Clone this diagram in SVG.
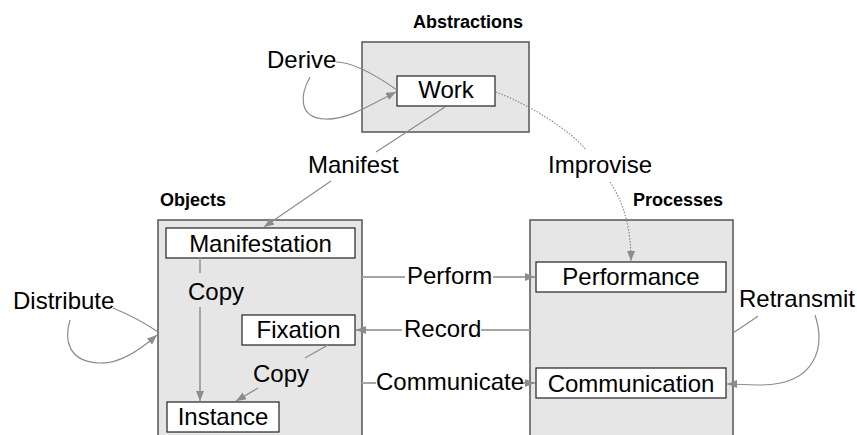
<svg xmlns="http://www.w3.org/2000/svg" width="857" height="435" viewBox="0 0 857 435">
<defs>
<marker id="ah" markerUnits="userSpaceOnUse" markerWidth="11" markerHeight="9" refX="10" refY="4" orient="auto" viewBox="0 0 11 9">
<path d="M0,0 L10,4 L0,8 z" fill="#8c8c8c"/>
</marker>
</defs>
<style>
.grp{fill:#e6e6e6;stroke:#555;stroke-width:1.5}
.node{fill:#fff;stroke:#222;stroke-width:1.2}
.t{font-family:"Liberation Sans",Arial,sans-serif;font-size:24px;fill:#000}
.c{text-anchor:middle}
.h{font-family:"Liberation Sans",Arial,sans-serif;font-size:18px;font-weight:bold;fill:#000}
.ln{fill:none;stroke:#a6a6a6;stroke-width:2}
.th{fill:none;stroke:#8c8c8c;stroke-width:1.2}
.dot{fill:none;stroke:#8c8c8c;stroke-width:1.2;stroke-dasharray:1.5 1.5}
</style>
<rect width="857" height="435" fill="#fff"/>
<g id="abstractions">
<rect class="grp" x="362" y="42" width="167" height="90"/>
<text class="h" x="413" y="28">Abstractions</text>
</g>
<g id="objects">
<rect class="grp" x="158" y="220" width="204" height="230"/>
<text class="h" x="160" y="206">Objects</text>
</g>
<g id="processes">
<rect class="grp" x="530" y="220" width="203" height="230"/>
<text class="h" x="633" y="206">Processes</text>
</g>
<g id="work">
<rect class="node" x="397" y="76" width="98" height="30"/>
<text class="t c" x="446" y="98">Work</text>
</g>
<g id="manifestation">
<rect class="node" x="166" y="228" width="189" height="30"/>
<text class="t c" x="260.5" y="252">Manifestation</text>
</g>
<g id="fixation">
<rect class="node" x="242" y="315" width="113" height="30"/>
<text class="t c" x="298.5" y="338">Fixation</text>
</g>
<g id="instance">
<rect class="node" x="167" y="402" width="112" height="30"/>
<text class="t c" x="223" y="425">Instance</text>
</g>
<g id="performance">
<rect class="node" x="536" y="262" width="190" height="30"/>
<text class="t c" x="631" y="285">Performance</text>
</g>
<g id="communication">
<rect class="node" x="536" y="368" width="190" height="30"/>
<text class="t c" x="631" y="392">Communication</text>
</g>
<g id="connectors">
<path class="th" d="M397,90 C380,78 355,62 336,62"/>
<path class="th" d="M310,77 C300,95 298,118 325,119 C348,120 372,104 396,92" marker-end="url(#ah)"/>
<text class="t" x="267" y="68">Derive</text>
<path class="th" d="M445,107 L376,152"/>
<path class="th" d="M331,181 L264,227" marker-end="url(#ah)"/>
<text class="t" x="308" y="173">Manifest</text>
<path class="dot" d="M496,92 C530,105 570,130 586,150"/>
<path class="dot" d="M610,182 C625,205 631,230 631,261" marker-end="url(#ah)"/>
<text class="t" x="548" y="173">Improvise</text>
<path class="th" d="M113,308 C130,315 145,323 158,332"/>
<path class="th" d="M70,320 C64,340 68,362 100,363 C120,364 140,350 157,335" marker-end="url(#ah)"/>
<text class="t" x="13" y="309">Distribute</text>
<path class="th" d="M758,316 C750,322 740,328 733,333"/>
<path class="th" d="M815,315 C825,345 818,385 760,385 C750,385 738,384 727,384" marker-end="url(#ah)"/>
<text class="t" x="739" y="307">Retransmit</text>
<path class="ln" d="M362,277 L405,277"/>
<path class="ln" d="M493,277 L535,277" marker-end="url(#ah)"/>
<text class="t" x="407" y="284">Perform</text>
<path class="ln" d="M530,330 L481,330"/>
<path class="ln" d="M402,330 L356,330" marker-end="url(#ah)"/>
<text class="t" x="404" y="337">Record</text>
<path class="ln" d="M362,383 L376,383"/>
<path class="ln" d="M523,383 L535,383" marker-end="url(#ah)"/>
<text class="t" x="376" y="390">Communicate</text>
<path class="ln" d="M200,258 L200,273"/>
<path class="ln" d="M200,307 L200,401" marker-end="url(#ah)"/>
<text class="t" x="188" y="300">Copy</text>
<path class="th" d="M328,345 L305,358"/>
<path class="th" d="M258,388 L236,401" marker-end="url(#ah)"/>
<text class="t" x="253" y="382">Copy</text>
</g>
</svg>
